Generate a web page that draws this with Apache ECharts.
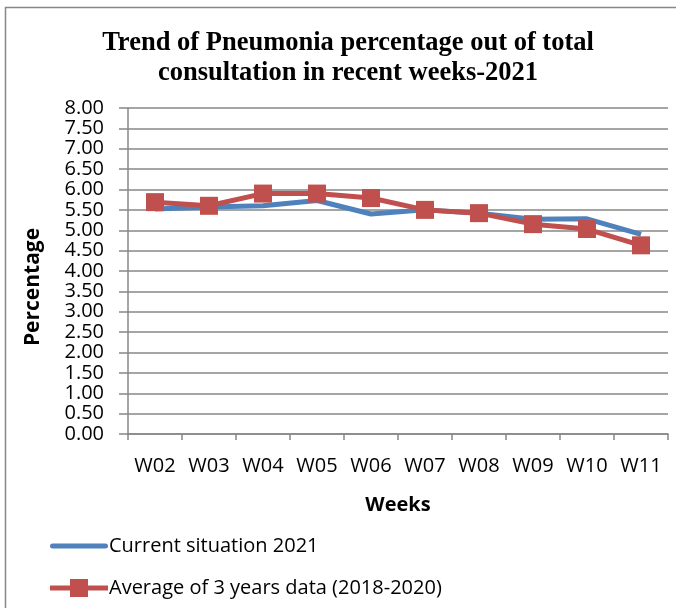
<!DOCTYPE html>
<html>
<head>
<meta charset="utf-8">
<script src="https://cdn.jsdelivr.net/npm/echarts@6/dist/echarts.min.js"></script>
<style>
  html, body { margin: 0; padding: 0; background: #fff; }
  #chart { width: 676px; height: 608px; }
</style>
</head>
<body>
<div id="chart"></div>
<script>
  // data
  const weeks = ['W02', 'W03', 'W04', 'W05', 'W06', 'W07', 'W08', 'W09', 'W10', 'W11'];
  const current2021 = [5.52, 5.57, 5.60, 5.73, 5.40, 5.50, 5.42, 5.27, 5.28, 4.90];
  const avg3Years = [5.69, 5.60, 5.90, 5.90, 5.79, 5.50, 5.42, 5.15, 5.03, 4.63];
  const seriesNames = ['Current situation 2021', 'Average of 3 years data (2018-2020)'];

  const sans = '"Open Sans", "DejaVu Sans", sans-serif';
  const gray = '#878787';

  // legend glyphs: plain thick line, and thick line with a square marker
  const lineIcon = 'path://M2.5,0 L55.5,0 A2.5,2.5 0 0 1 55.5,5 L2.5,5 A2.5,2.5 0 0 1 2.5,0 Z';
  const markerIcon = 'path://M0,6.5 L20,6.5 L20,0 L38,0 L38,6.5 L58,6.5 L58,11.5 L38,11.5 L38,18 L20,18 L20,11.5 L0,11.5 Z';

  const chart = echarts.init(document.getElementById('chart'));
  chart.setOption({
    animation: false,
    title: {
      text: 'Trend of Pneumonia percentage out of total\nconsultation in recent weeks-2021',
      left: 343,
      top: 23,
      textAlign: 'center',
      textStyle: {
        fontFamily: '"Liberation Serif", "Times New Roman", serif',
        fontWeight: 'bold',
        fontSize: 26.5,
        lineHeight: 30,
        color: '#000'
      }
    },
    graphic: [{
      type: 'rect',
      shape: { x: 5.5, y: 7.5, width: 700, height: 700 },
      style: { fill: 'none', stroke: gray, lineWidth: 1.5 },
      silent: true
    }],
    legend: {
      orient: 'vertical',
      left: 45,
      top: 531,
      itemWidth: 58,
      itemHeight: 18,
      itemGap: 22,
      textStyle: { fontFamily: sans, fontSize: 20, color: '#000', padding: [0, 0, 0, -4] },
      data: [
        { name: seriesNames[0], icon: lineIcon },
        { name: seriesNames[1], icon: markerIcon }
      ]
    },
    grid: { left: 128, right: 8, top: 108, bottom: 174 },
    xAxis: {
      type: 'category',
      data: weeks,
      name: 'Weeks',
      nameLocation: 'middle',
      nameGap: 61,
      nameTextStyle: { fontFamily: sans, fontSize: 20, fontWeight: 'bold', color: '#000' },
      axisLine: { lineStyle: { color: gray, width: 1.5 } },
      axisTick: { show: true, length: 6, lineStyle: { color: gray, width: 1.5 } },
      axisLabel: { fontFamily: sans, fontSize: 20, color: '#000', margin: 22 }
    },
    yAxis: {
      type: 'value',
      min: 0,
      max: 8,
      interval: 0.5,
      name: 'Percentage',
      nameLocation: 'middle',
      nameGap: 84,
      nameTextStyle: {
        fontFamily: sans, fontSize: 21, fontWeight: 'bold', color: '#000',
        padding: [0, 32, 0, 0]
      },
      axisLine: { show: true, lineStyle: { color: gray, width: 1.5 } },
      axisTick: { show: true, length: 9, lineStyle: { color: gray, width: 1.5 } },
      splitLine: { lineStyle: { color: gray, width: 1.5 } },
      axisLabel: {
        fontFamily: sans,
        fontSize: 20,
        lineHeight: 18,
        color: '#000',
        margin: 24,
        formatter: v => v.toFixed(2)
      }
    },
    series: [{
      name: seriesNames[0],
      type: 'line',
      data: current2021,
      symbol: 'none',
      lineStyle: { color: '#4F81BD', width: 5 },
      itemStyle: { color: '#4F81BD' }
    }, {
      name: seriesNames[1],
      type: 'line',
      data: avg3Years,
      symbol: 'rect',
      symbolSize: 18,
      lineStyle: { color: '#C0504D', width: 5 },
      itemStyle: { color: '#C0504D' }
    }]
  });
</script>
</body>
</html>
